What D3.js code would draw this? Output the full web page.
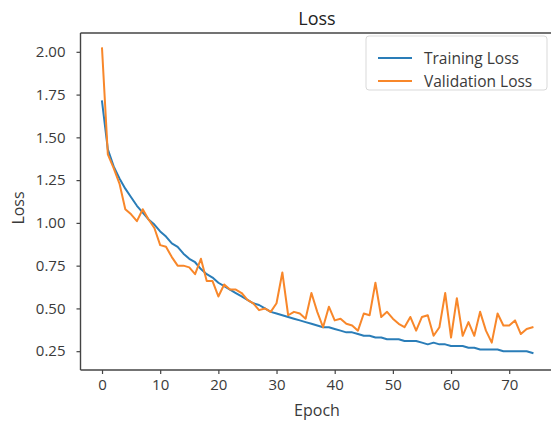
<!DOCTYPE html>
<html>
<head>
<meta charset="utf-8">
<script src="https://cdn.jsdelivr.net/npm/d3@7"></script>
<style>
  html, body { margin: 0; padding: 0; background: #fff; }
  svg { display: block; font-family: "Open Sans", sans-serif; }
</style>
</head>
<body>
<svg id="chart" width="551" height="423"></svg>
<script>
const title = "Loss";
const xLabel = "Epoch";
const yLabel = "Loss";
const seriesNames = ["Training Loss", "Validation Loss"];
const seriesColors = ["#2a7db8", "#f8872a"];
const xTicks = [0, 10, 20, 30, 40, 50, 60, 70];
const yTicks = [0.25, 0.50, 0.75, 1.00, 1.25, 1.50, 1.75, 2.00];

const trainingLoss = [
  1.71, 1.43, 1.33, 1.26, 1.20, 1.15, 1.10, 1.06, 1.02, 0.99,
  0.95, 0.92, 0.88, 0.86, 0.82, 0.79, 0.77, 0.73, 0.70, 0.68,
  0.65, 0.63, 0.61, 0.59, 0.57, 0.55, 0.53, 0.52, 0.50, 0.48,
  0.47, 0.46, 0.45, 0.44, 0.43, 0.42, 0.41, 0.40, 0.39, 0.39,
  0.38, 0.37, 0.36, 0.36, 0.35, 0.34, 0.34, 0.33, 0.33, 0.32,
  0.32, 0.32, 0.31, 0.31, 0.31, 0.30, 0.29, 0.30, 0.29, 0.29,
  0.28, 0.28, 0.28, 0.27, 0.27, 0.26, 0.26, 0.26, 0.26, 0.25,
  0.25, 0.25, 0.25, 0.25, 0.24
];
const validationLoss = [
  2.02, 1.40, 1.32, 1.23, 1.08, 1.05, 1.01, 1.08, 1.02, 0.97,
  0.87, 0.86, 0.80, 0.75, 0.75, 0.74, 0.70, 0.79, 0.66, 0.66,
  0.57, 0.64, 0.61, 0.61, 0.59, 0.55, 0.53, 0.49, 0.50, 0.48,
  0.53, 0.71, 0.46, 0.48, 0.47, 0.44, 0.59, 0.48, 0.39, 0.51,
  0.43, 0.44, 0.41, 0.40, 0.37, 0.47, 0.46, 0.65, 0.45, 0.48,
  0.44, 0.41, 0.39, 0.45, 0.37, 0.45, 0.46, 0.34, 0.39, 0.59,
  0.33, 0.56, 0.34, 0.42, 0.34, 0.48, 0.37, 0.30, 0.47, 0.40,
  0.40, 0.43, 0.35, 0.38, 0.39
];
const epochs = d3.range(trainingLoss.length);

const svg = d3.select("#chart");
const plotLeft = 80.5, plotRight = 554, plotTop = 33, plotBottom = 370;

const x = d3.scaleLinear().domain([-3.7, 77.7]).range([plotLeft, plotRight]);
const y = d3.scaleLinear().domain([0.14, 2.11]).range([plotBottom, plotTop]);

const textColor = "#3a3a3a";
const axisColor = "#444";

// Axes
const xAxis = svg.append("g")
  .attr("transform", `translate(0,${plotBottom})`)
  .call(d3.axisBottom(x).tickValues(xTicks).tickFormat(d3.format("d")).tickSize(4).tickPadding(5));
const yAxis = svg.append("g")
  .attr("transform", `translate(${plotLeft},0)`)
  .call(d3.axisLeft(y).tickValues(yTicks).tickFormat(d3.format(".2f")).tickSize(4).tickPadding(11));
[xAxis, yAxis].forEach(g => {
  g.select(".domain").remove();
  g.selectAll(".tick line").attr("stroke", axisColor).attr("stroke-width", 1.2);
  g.selectAll(".tick text").attr("fill", textColor)
    .style("font-size", "15px").style("font-family", "'Open Sans', sans-serif");
});

// Lines
const line = d3.line().x((d, i) => x(epochs[i])).y(d => y(d));
svg.append("defs").append("clipPath").attr("id", "clip")
  .append("rect").attr("x", plotLeft).attr("y", plotTop).attr("width", plotRight - plotLeft).attr("height", plotBottom - plotTop);
const plot = svg.append("g").attr("clip-path", "url(#clip)");
[trainingLoss, validationLoss].forEach((s, k) => {
  plot.append("path").datum(s)
    .attr("fill", "none")
    .attr("stroke", seriesColors[k])
    .attr("stroke-width", 2)
    .attr("stroke-linejoin", "round")
    .attr("stroke-linecap", "square")
    .attr("d", line);
});

// Spines
const spine = svg.append("g").attr("stroke", axisColor).attr("stroke-width", 1.4).attr("fill", "none");
spine.append("line").attr("x1", plotLeft).attr("x2", plotLeft).attr("y1", plotTop).attr("y2", plotBottom);
spine.append("line").attr("x1", plotLeft).attr("x2", plotRight).attr("y1", plotBottom).attr("y2", plotBottom);
spine.append("line").attr("x1", plotLeft).attr("x2", plotRight).attr("y1", plotTop).attr("y2", plotTop);
spine.append("line").attr("x1", plotRight).attr("x2", plotRight).attr("y1", plotTop).attr("y2", plotBottom);

// Title and labels
svg.append("text").attr("x", 317).attr("y", 25).attr("text-anchor", "middle")
  .attr("fill", "#222").style("font-size", "18px").text(title);
svg.append("text").attr("x", 317).attr("y", 416).attr("text-anchor", "middle")
  .attr("fill", textColor).style("font-size", "16px").text(xLabel);
svg.append("text").attr("transform", "translate(24,208) rotate(-90)").attr("text-anchor", "middle")
  .attr("fill", textColor).style("font-size", "16px").text(yLabel);

// Legend
const lg = svg.append("g");
lg.append("rect").attr("x", 366).attr("y", 36).attr("width", 181).attr("height", 54)
  .attr("rx", 3).attr("fill", "#fff").attr("fill-opacity", 0.8).attr("stroke", "#d9d9d9");
seriesNames.forEach((name, k) => {
  const yy = 58 + k * 23;
  lg.append("line").attr("x1", 378).attr("x2", 412).attr("y1", yy).attr("y2", yy)
    .attr("stroke", seriesColors[k]).attr("stroke-width", 2);
  lg.append("text").attr("x", 424).attr("y", yy + 5.5).attr("fill", textColor)
    .style("font-size", "15.5px").text(name);
});
</script>
</body>
</html>
